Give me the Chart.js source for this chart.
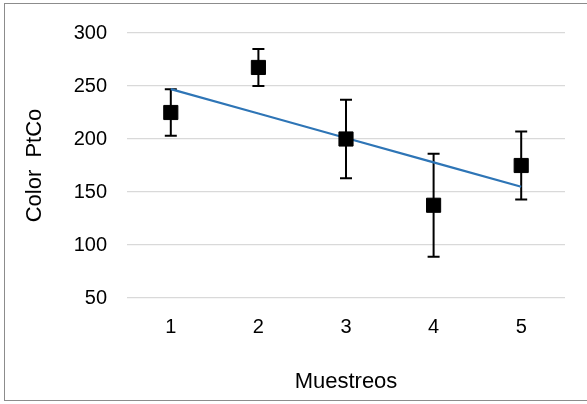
<!DOCTYPE html>
<html>
<head>
<meta charset="utf-8">
<script src="https://cdn.jsdelivr.net/npm/chart.js@4"></script>
<style>
  html, body { margin: 0; padding: 0; background: #fff; overflow: hidden; }
  #wrap { position: relative; width: 587px; height: 404px; }
  #frame { position: absolute; left: 4px; top: 3px; width: 620px; height: 398px; border: 1.5px solid #8c8c8c; box-sizing: border-box; }
  #c { position: absolute; left: 0; top: 0; }
</style>
</head>
<body>
<div id="wrap">
  <div id="frame"></div>
  <canvas id="c" width="587" height="404"></canvas>
</div>
<script>
// Sampling rounds and mean colour (PtCo units)
const categories = ['1', '2', '3', '4', '5'];
const means = [225, 267.5, 200, 137.5, 175];
// Half-width of each error bar
const errors = [22, 17.5, 37, 48.5, 32];
const yTicks = [50, 100, 150, 200, 250, 300];

// Least-squares linear trend across the sampling rounds
function linearTrend(values) {
  const n = values.length;
  const xs = values.map((_, i) => i + 1);
  const mx = xs.reduce((a, b) => a + b, 0) / n;
  const my = values.reduce((a, b) => a + b, 0) / n;
  let sxy = 0, sxx = 0;
  xs.forEach((x, i) => { sxy += (x - mx) * (values[i] - my); sxx += (x - mx) * (x - mx); });
  const slope = sxy / sxx;
  return xs.map(x => my + slope * (x - mx));
}
const trend = linearTrend(means);

const errorBars = {
  id: 'errorBars',
  beforeDatasetsDraw(chart) {
    const { ctx, scales: { x, y } } = chart;
    ctx.save();
    ctx.strokeStyle = '#000';
    ctx.lineWidth = 2;
    const cap = 6;
    means.forEach((m, i) => {
      const px = x.getPixelForValue(i);
      const top = y.getPixelForValue(m + errors[i]);
      const bot = y.getPixelForValue(m - errors[i]);
      ctx.beginPath();
      ctx.moveTo(px, top); ctx.lineTo(px, bot);
      ctx.moveTo(px - cap, top); ctx.lineTo(px + cap, top);
      ctx.moveTo(px - cap, bot); ctx.lineTo(px + cap, bot);
      ctx.stroke();
    });
    ctx.restore();
  }
};

const tickFont = { family: '"Liberation Sans", Arial, sans-serif', size: 20 };
const titleFont = { family: '"Liberation Sans", Arial, sans-serif', size: 22 };

new Chart(document.getElementById('c'), {
  type: 'line',
  data: {
    labels: categories,
    datasets: [
      {
        data: means,
        showLine: false,
        pointStyle: 'rect',
        pointRadius: 10,
        pointBackgroundColor: '#000',
        pointBorderColor: '#000',
        pointBorderWidth: 1
      },
      {
        data: trend,
        borderColor: '#2E75B6',
        borderWidth: 2.2,
        pointRadius: 0,
        fill: false
      }
    ]
  },
  options: {
    responsive: false,
    animation: false,
    events: [],
    layout: { padding: { left: 0, right: 22, top: 33, bottom: 0 } },
    plugins: { legend: { display: false }, tooltip: { enabled: false } },
    scales: {
      x: {
        offset: true,
        grid: { display: false },
        border: { display: false },
        ticks: { color: '#000', font: tickFont, padding: 9 },
        title: { display: true, text: 'Muestreos', color: '#000', font: titleFont, padding: { top: 0, bottom: 9 } },
        afterFit(scale) { scale.height = 106; }
      },
      y: {
        min: 50,
        max: 300,
        afterBuildTicks(scale) { scale.ticks = yTicks.map(v => ({ value: v })); },
        grid: { color: '#d9d9d9', lineWidth: 1.3, drawTicks: false },
        border: { display: false },
        ticks: { color: '#000', font: tickFont, padding: 20 },
        title: { display: true, text: 'Color  PtCo', color: '#000', font: titleFont, padding: { top: 22, bottom: 0 } },
        afterFit(scale) { scale.width = 127; }
      }
    }
  },
  plugins: [errorBars]
});
</script>
</body>
</html>
